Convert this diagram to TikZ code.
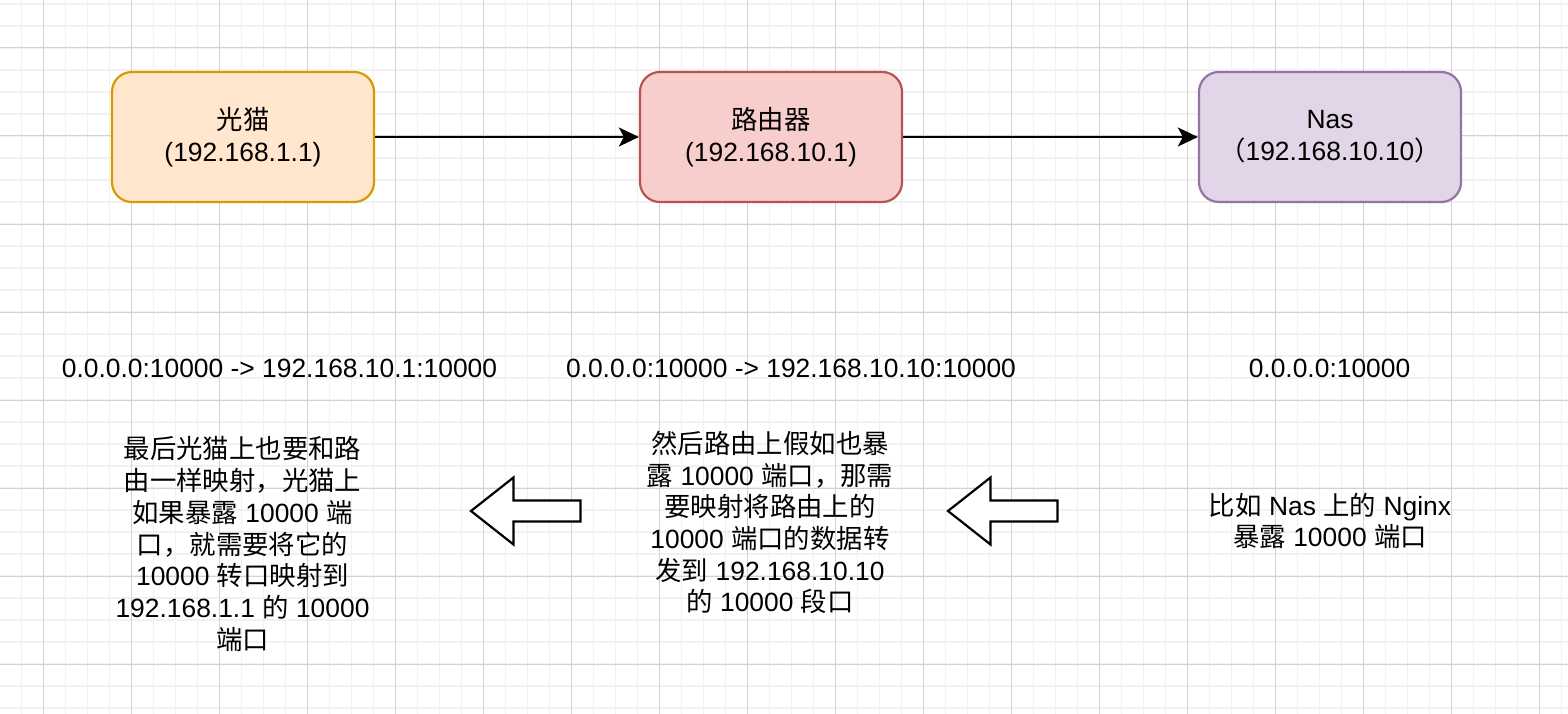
\documentclass[tikz,border=0pt]{standalone}
\usepackage{fontspec}
\setmainfont{Liberation Sans}
\newfontfamily\cjkfont{Noto Sans CJK SC}
\usetikzlibrary{arrows.meta}
\newcommand{\zhtext}[1]{{\cjkfont #1}}
\definecolor{minorgrid}{HTML}{F1F1F1}
\definecolor{majorgrid}{HTML}{D2D2D2}
\definecolor{orangefill}{HTML}{FFE6CC}
\definecolor{orangeline}{HTML}{D79B00}
\definecolor{redfill}{HTML}{F8CECC}
\definecolor{redline}{HTML}{B85450}
\definecolor{purplefill}{HTML}{E1D5E7}
\definecolor{purpleline}{HTML}{9673A6}
\tikzset{
  devbox/.style={draw, line width=2.2pt, rounded corners=19.8pt,
    minimum width=262pt, minimum height=130pt, align=center, inner sep=0pt,
    font=\fontsize{26.4}{31.68}\selectfont},
  lbl/.style={align=center, inner sep=0pt, font=\fontsize{26.4}{31.68}\selectfont},
  conn/.style={line width=2.2pt, -{Stealth[length=20pt,width=19pt,inset=5pt]}},
  blockarrow/.style={draw=black, fill=white, line width=2.2pt, line join=miter},
}
\begin{document}
\begin{tikzpicture}[x=1pt,y=-1pt]
\useasboundingbox (0,0) rectangle (1568,714);
\fill[white] (0,0) rectangle (1568,714);
% grid
\foreach \x in {-0.5,21.5,...,1570} \draw[minorgrid, line width=1.6pt] (\x,0) -- (\x,714);
\foreach \y in {4,26,...,716} \draw[minorgrid, line width=1.6pt] (0,\y) -- (1568,\y);
\foreach \x in {43.5,131.5,...,1570} \draw[majorgrid, line width=1pt] (\x,0) -- (\x,714);
\foreach \y in {48,136,...,716} \draw[majorgrid, line width=1pt] (0,\y) -- (1568,\y);

% devices
\node[devbox, fill=orangefill, draw=orangeline] (gm) at (243,137) {\zhtext{光猫}\\(192.168.1.1)};
\node[devbox, fill=redfill, draw=redline] (router) at (771,137) {\zhtext{路由器}\\(192.168.10.1)};
\node[devbox, fill=purplefill, draw=purpleline] (nas) at (1330,137) {Nas\\\zhtext{（}192.168.10.10\zhtext{）}};

\draw[conn] (gm) -- (router);
\draw[conn] (router) -- (nas);

% mapping labels
\node[lbl] (map1) at (279.5,368) {0.0.0.0:10000 -> 192.168.10.1:10000};
\node[lbl] (map2) at (791,368) {0.0.0.0:10000 -> 192.168.10.10:10000};
\node[lbl] (map3) at (1329.5,368) {0.0.0.0:10000};

% explanations
\node[lbl] (txt1) at (242.5,544) {\zhtext{最后光猫上也要和路}\\
\zhtext{由一样映射，光猫上}\\
\zhtext{如果暴露} 10000 \zhtext{端}\\
\zhtext{口，就需要将它的}\\
10000 \zhtext{转口映射到}\\
192.168.1.1 \zhtext{的} 10000\\
\zhtext{端口}};
\node[lbl] (txt2) at (770,522.5) {\zhtext{然后路由上假如也暴}\\
\zhtext{露} 10000 \zhtext{端口，那需}\\
\zhtext{要映射将路由上的}\\
10000 \zhtext{端口的数据转}\\
\zhtext{发到} 192.168.10.10\\
\zhtext{的} 10000 \zhtext{段口}};
\node[lbl] (txt3) at (1330,521) {\zhtext{比如} Nas \zhtext{上的} Nginx\\
\zhtext{暴露} 10000 \zhtext{端口}};

% block arrows
\draw[blockarrow] (471,511) -- (513.5,477.5) -- (513.5,500.5) -- (580.5,500.5)
  -- (580.5,521.5) -- (513.5,521.5) -- (513.5,544.5) -- cycle;
\draw[blockarrow] (948,511) -- (990.5,477.5) -- (990.5,500.5) -- (1057.5,500.5)
  -- (1057.5,521.5) -- (990.5,521.5) -- (990.5,544.5) -- cycle;
\end{tikzpicture}
\end{document}
